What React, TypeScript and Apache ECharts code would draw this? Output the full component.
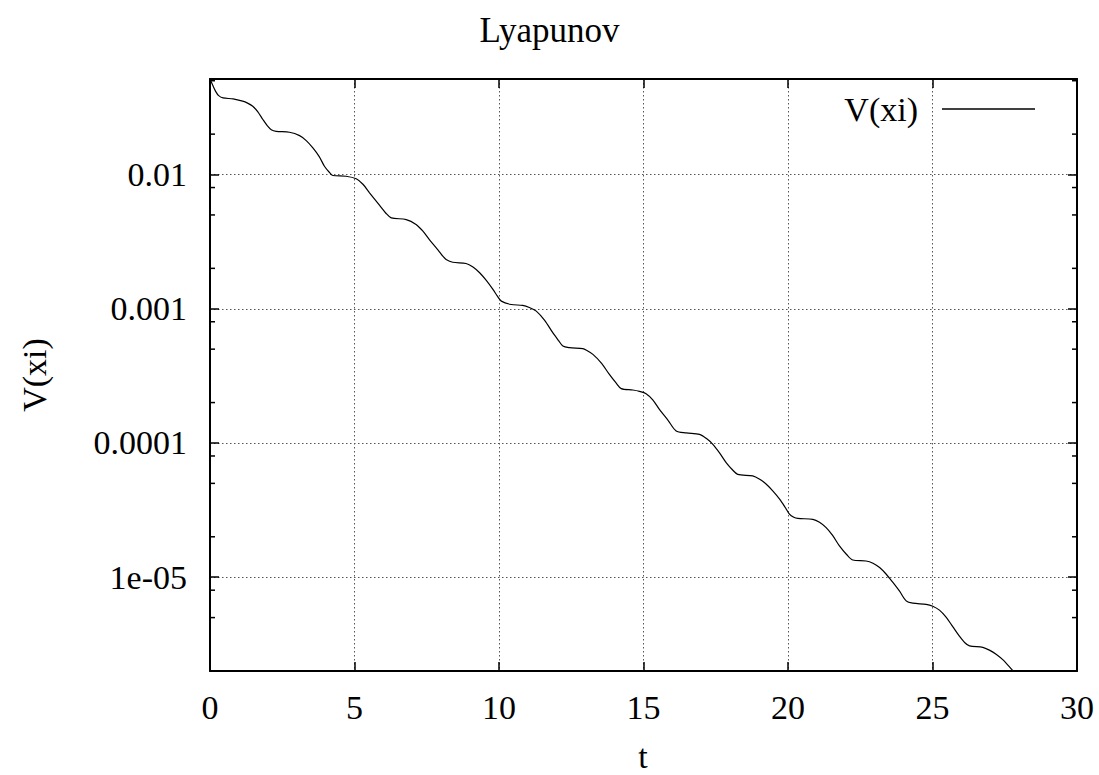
import React, { useEffect, useRef } from "react";
import * as echarts from "echarts";

const titleText = "Lyapunov";
const seriesName = "V(xi)";
const xAxisName = "t";
const yAxisName = "V(xi)";

const tValues = [
  0.0, 0.1, 0.2, 0.3, 0.45, 0.8, 1.13, 1.3, 1.48, 1.65, 1.83, 1.98, 2.12, 2.29, 2.75, 3.1, 3.33,
  3.56, 3.78, 3.96, 4.12, 4.25, 4.71, 5.06, 5.3, 5.52, 5.87, 6.08, 6.27, 6.79, 7.13, 7.36, 7.59,
  7.9, 8.05, 8.17, 8.4, 8.86, 9.1, 9.33, 9.56, 9.79, 9.95, 10.08, 10.42, 10.82, 11.05, 11.29,
  11.58, 11.86, 12.07, 12.21, 12.44, 12.9, 13.03, 13.25, 13.55, 13.82, 14.05, 14.23, 14.63,
  14.86, 15.09, 15.32, 15.55, 15.85, 16.13, 16.48, 16.94, 17.17, 17.4, 17.63, 17.86, 18.06,
  18.26, 18.78, 19.02, 19.25, 19.48, 19.71, 19.9, 20.05, 20.2, 20.34, 20.86, 21.09, 21.32, 21.55,
  21.78, 22.02, 22.24, 22.7, 22.94, 23.17, 23.4, 23.63, 23.86, 24.09, 24.32, 24.78, 25.01, 25.24,
  25.47, 25.7, 25.93, 26.12, 26.28, 26.74, 26.97, 27.2, 27.45, 27.78, 28.0,
];
const vValues = [
  0.0515, 0.046, 0.0415, 0.0387, 0.0372, 0.0366, 0.0352, 0.03405, 0.0323, 0.02944, 0.0257,
  0.02317, 0.0216, 0.021, 0.02065, 0.0195, 0.0179, 0.0158, 0.0136, 0.01153, 0.01044, 0.00983,
  0.00971, 0.00929, 0.00843, 0.00731, 0.00588, 0.00517, 0.00476, 0.00462, 0.00425, 0.0038,
  0.00328, 0.00272, 0.002473, 0.00233, 0.00222, 0.002175, 0.002048, 0.001854, 0.001625,
  0.001393, 0.001236, 0.00114, 0.001076, 0.00106, 0.001023, 0.00096, 0.000819, 0.000663,
  0.000576, 0.000527, 0.000513, 0.000504, 0.00049, 0.000457, 0.000392, 0.000324, 0.00028,
  0.000254, 0.000248, 0.0002424, 0.000233, 0.0002096, 0.000178, 0.0001475, 0.000123, 0.000119,
  0.000116, 0.0001083, 9.77e-5, 8.45e-5, 7.14e-5, 6.37e-5, 5.84e-5, 5.68e-5, 5.36e-5, 4.92e-5,
  4.37e-5, 3.81e-5, 3.32e-5, 2.95e-5, 2.797e-5, 2.74e-5, 2.7e-5, 2.566e-5, 2.34e-5, 2.037e-5,
  1.71e-5, 1.483e-5, 1.344e-5, 1.32e-5, 1.27e-5, 1.18e-5, 1.052e-5, 9.13e-6, 7.86e-6, 6.66e-6,
  6.4e-6, 6.28e-6, 6.08e-6, 5.68e-6, 5.04e-6, 4.28e-6, 3.64e-6, 3.25e-6, 3.08e-6, 3.0e-6,
  2.86e-6, 2.67e-6, 2.41e-6, 2.01e-6, 1.8e-6,
];
const xMin = 0;
const xMax = 30;
const xInterval = 5;
const yMin = 2e-6;
const yMax = 0.0515;
const yMinorTicks = [
  0.05, 0.02, 0.008, 0.005, 0.002, 0.0008, 0.0005, 0.0002, 0.00008, 0.00005, 0.00002, 0.000008,
  0.000005,
];

const FONT = "'Liberation Serif', 'Times New Roman', Times, serif";

function fmtY(v: number): string {
  const e = Math.round(Math.log10(v));
  if (Math.abs(Math.pow(10, e) - v) / v > 1e-6) return "";
  if (e <= -5) return "1e-" + String(-e).padStart(2, "0");
  return v.toFixed(-e);
}

export default function App() {
  const ref = useRef<HTMLDivElement>(null);
  useEffect(() => {
    if (!ref.current) return;
    const chart = echarts.init(ref.current, null, { renderer: "svg" });
    const lineData = tValues.map((t, i) => [t, vValues[i]]);
    const tickStyle = { color: "#000", width: 1.5 };
    chart.setOption({
      animation: false,
      backgroundColor: "#fff",
      textStyle: { fontFamily: FONT },
      title: {
        text: titleText,
        left: "center",
        top: 8,
        textStyle: { fontFamily: FONT, fontSize: 35, fontWeight: "normal", color: "#000" },
      },
      legend: {
        data: [seriesName],
        right: 59,
        top: 87,
        icon: "rect",
        itemWidth: 93,
        itemHeight: 1.3,
        align: "right",
        itemStyle: { color: "#000" },
        textStyle: {
          fontFamily: FONT,
          fontSize: 34,
          color: "#000",
          padding: [0, 19, 0, 0],
        },
      },
      grid: { left: 210, right: 22, top: 79, bottom: 104, containLabel: false },
      xAxis: [
        {
          type: "value",
          min: xMin,
          max: xMax,
          interval: xInterval,
          position: "bottom",
          axisLine: { show: true, onZero: false, lineStyle: { color: "#000", width: 2 } },
          axisTick: { show: true, inside: true, length: 9, lineStyle: tickStyle },
          axisLabel: { fontFamily: FONT, fontSize: 34, color: "#000", margin: 19 },
          splitLine: { show: true, lineStyle: { color: "#555", width: 1, type: [1.5, 2.5] } },
        },
        {
          type: "value",
          min: xMin,
          max: xMax,
          interval: xInterval,
          position: "top",
          axisLine: { show: true, onZero: false, lineStyle: { color: "#000", width: 2 } },
          axisTick: { show: true, inside: true, length: 9, lineStyle: tickStyle },
          axisLabel: { show: false },
          splitLine: { show: false },
        },
      ],
      yAxis: [
        {
          type: "log",
          logBase: 10,
          min: yMin,
          max: yMax,
          position: "left",
          axisLine: { show: true, onZero: false, lineStyle: { color: "#000", width: 2 } },
          axisTick: { show: true, inside: true, length: 9, lineStyle: tickStyle },
          axisLabel: {
            fontFamily: FONT,
            fontSize: 34,
            color: "#000",
            margin: 23,
            showMinLabel: false,
            showMaxLabel: false,
            formatter: fmtY,
          },
          splitLine: { show: true, lineStyle: { color: "#555", width: 1, type: [1.5, 2.5] } },
        },
        {
          type: "log",
          logBase: 10,
          min: yMin,
          max: yMax,
          position: "right",
          axisLine: { show: true, onZero: false, lineStyle: { color: "#000", width: 2 } },
          axisTick: { show: true, inside: true, length: 9, lineStyle: tickStyle },
          axisLabel: { show: false },
          splitLine: { show: false },
        },
      ],
      graphic: [
        {
          type: "text",
          x: 643,
          y: 756,
          style: {
            text: xAxisName,
            fontFamily: FONT,
            fontSize: 34,
            fill: "#000",
            align: "center",
            verticalAlign: "middle",
          },
        },
        {
          type: "text",
          x: 34,
          y: 375,
          rotation: Math.PI / 2,
          style: {
            text: yAxisName,
            fontFamily: FONT,
            fontSize: 34,
            fill: "#000",
            align: "center",
            verticalAlign: "middle",
          },
        },
      ],
      series: [
        {
          name: seriesName,
          type: "line",
          data: lineData,
          xAxisIndex: 0,
          yAxisIndex: 0,
          showSymbol: false,
          symbol: "none",
          smooth: 0.3,
          clip: true,
          lineStyle: { color: "#000", width: 1.2 },
          itemStyle: { color: "#000" },
        },
        {
          name: "minorTicks",
          type: "custom",
          xAxisIndex: 0,
          yAxisIndex: 0,
          silent: true,
          data: yMinorTicks.map((v) => [xMin, v]),
          encode: { x: 0, y: 1 },
          renderItem: (params: any, api: any) => {
            const y = api.coord([xMin, api.value(1)])[1];
            const cs = params.coordSys;
            return {
              type: "group",
              children: [
                {
                  type: "line",
                  shape: { x1: cs.x, y1: y, x2: cs.x + 5, y2: y },
                  style: { stroke: "#000", lineWidth: 1.5 },
                },
                {
                  type: "line",
                  shape: { x1: cs.x + cs.width - 5, y1: y, x2: cs.x + cs.width, y2: y },
                  style: { stroke: "#000", lineWidth: 1.5 },
                },
              ],
            };
          },
        },
      ],
    });
    return () => chart.dispose();
  }, []);
  return (
    <div
      ref={ref}
      style={{ position: "absolute", left: 0, top: 0, width: 1099, height: 775 }}
    />
  );
}
